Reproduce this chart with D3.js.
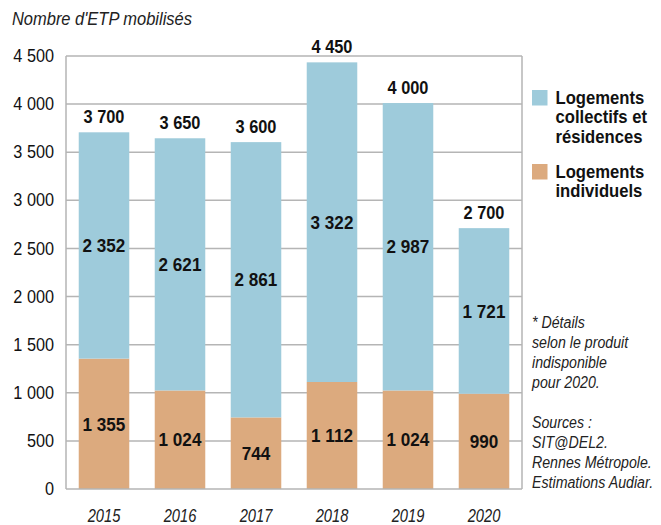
<!DOCTYPE html>
<html>
<head>
<meta charset="utf-8">
<script src="https://cdn.jsdelivr.net/npm/d3@7"></script>
<style>
  html, body { margin: 0; padding: 0; background: #fff; }
  svg { display: block; }
  text { font-family: "Liberation Sans", Arial, sans-serif; }
</style>
</head>
<body>
<svg id="chart" width="661" height="525"></svg>
<script>
// Emplois (ETP) mobilisés par type de logement
const years = ["2015", "2016", "2017", "2018", "2019", "2020"];
const individuels = [1355, 1024, 744, 1112, 1024, 990];
const collectifs = [2352, 2621, 2861, 3322, 2987, 1721];
const totalLabels = ["3 700", "3 650", "3 600", "4 450", "4 000", "2 700"];
const yTicks = [0, 500, 1000, 1500, 2000, 2500, 3000, 3500, 4000, 4500];
const legendLines = [["Logements", "collectifs et", "résidences"], ["Logements", "individuels"]];
const noteLines = ["* Détails", "selon le produit", "indisponible", "pour 2020.", "", "Sources :", "SIT@DEL2.", "Rennes Métropole.", "Estimations Audiar."];

const colors = { individuels: "#dcaa7e", collectifs: "#9ecbdb" };
const fmt = v => d3.format(",")(v).replace(/,/g, " ");

// Resserre horizontalement un texte autour de son point d'ancrage (police condensée)
function condense(sel, k) {
  sel.each(function () {
    const t = d3.select(this);
    const ax = +t.attr("x") || 0;
    t.attr("transform", `translate(${ax},0) scale(${k},1) translate(${-ax},0)`);
  });
  return sel;
}

const svg = d3.select("#chart");
const plotLeft = 66, plotRight = 522, plotTop = 56, plotBottom = 489;

const x = d3.scaleBand().domain(years).range([plotLeft, plotRight]).paddingInner(0.335).paddingOuter(0.1675);
const y = d3.scaleLinear().domain([0, 4500]).range([plotBottom, plotTop]);

// Titre
svg.append("text").attr("x", 12).attr("y", 25)
  .attr("font-size", 18.5).attr("font-style", "italic").attr("fill", "#222")
  .text("Nombre d'ETP mobilisés")
  .call(condense, 0.89);

// Grille horizontale
svg.append("g").selectAll("line").data(yTicks.filter(t => t > 0)).join("line")
  .attr("x1", plotLeft).attr("x2", plotRight)
  .attr("y1", d => y(d)).attr("y2", d => y(d))
  .attr("stroke", "#b5b5b5").attr("stroke-width", 1.5);

// Cadre : bords gauche et droit
[plotLeft, plotRight].forEach(xx => {
  svg.append("line").attr("x1", xx).attr("x2", xx).attr("y1", plotTop).attr("y2", plotBottom)
    .attr("stroke", "#b5b5b5").attr("stroke-width", 1.5);
});

// Axe vertical
const yAxis = d3.axisLeft(y).tickValues(yTicks).tickSize(0).tickPadding(12).tickFormat(fmt);
const ga = svg.append("g").attr("transform", `translate(${plotLeft},0)`).call(yAxis);
ga.select(".domain").remove();
ga.selectAll("text").attr("font-size", 17.5).attr("fill", "#111")
  .style("font-family", "'Liberation Sans', Arial, sans-serif")
  .call(condense, 0.93);

// Piles
const rows = years.map((yr, i) => ({ year: yr, ind: individuels[i], col: collectifs[i], total: totalLabels[i] }));
const stack = d3.stack().keys(["ind", "col"])(rows);
const keyColor = { ind: colors.individuels, col: colors.collectifs };

svg.append("g").selectAll("g").data(stack).join("g")
  .attr("fill", d => keyColor[d.key])
  .selectAll("rect").data(d => d).join("rect")
  .attr("x", d => x(d.data.year))
  .attr("width", x.bandwidth())
  .attr("y", d => y(d[1]))
  .attr("height", d => y(d[0]) - y(d[1]));

// Ligne de base
svg.append("line").attr("x1", plotLeft).attr("x2", plotRight).attr("y1", plotBottom).attr("y2", plotBottom)
  .attr("stroke", "#b5b5b5").attr("stroke-width", 1.5);

// Valeurs des segments
stack.forEach(s => {
  svg.append("g").selectAll("text").data(s).join("text")
    .attr("x", d => x(d.data.year) + x.bandwidth() / 2)
    .attr("y", d => y((d[0] + d[1]) / 2))
    .attr("dy", "0.36em")
    .attr("text-anchor", "middle")
    .attr("font-size", 18.6).attr("font-weight", "bold").attr("fill", "#111")
    .text(d => fmt(d.data[s.key]))
    .call(condense, 0.92);
});

// Totaux
svg.append("g").selectAll("text").data(rows).join("text")
  .attr("x", d => x(d.year) + x.bandwidth() / 2)
  .attr("y", d => y(d.ind + d.col) - 9)
  .attr("text-anchor", "middle")
  .attr("font-size", 17.7).attr("font-weight", "bold").attr("fill", "#111")
  .text(d => d.total)
  .call(condense, 0.925);

// Années
svg.append("g").selectAll("text").data(years).join("text")
  .attr("x", d => x(d) + x.bandwidth() / 2)
  .attr("y", 522)
  .attr("text-anchor", "middle")
  .attr("font-size", 17.5).attr("font-style", "italic").attr("fill", "#222")
  .text(d => d)
  .call(condense, 0.84);

// Légende
const legend = [
  { color: colors.collectifs, lines: legendLines[0], base: 104 },
  { color: colors.individuels, lines: legendLines[1], base: 178 }
];
legend.forEach(l => {
  svg.append("rect").attr("x", 532).attr("y", l.base - 14).attr("width", 15.5).attr("height", 15.5).attr("fill", l.color);
  l.lines.forEach((t, i) => {
    svg.append("text").attr("x", 555.5).attr("y", l.base + i * 19.3)
      .attr("font-size", 18.5).attr("font-weight", "bold").attr("fill", "#111").text(t)
      .call(condense, 0.9);
  });
});

// Notes et sources
noteLines.forEach((t, i) => {
  if (!t) return;
  svg.append("text").attr("x", 532).attr("y", 328 + i * 20)
    .attr("font-size", 16.5).attr("font-style", "italic").attr("fill", "#222").text(t)
    .call(condense, 0.86);
});
</script>
</body>
</html>
